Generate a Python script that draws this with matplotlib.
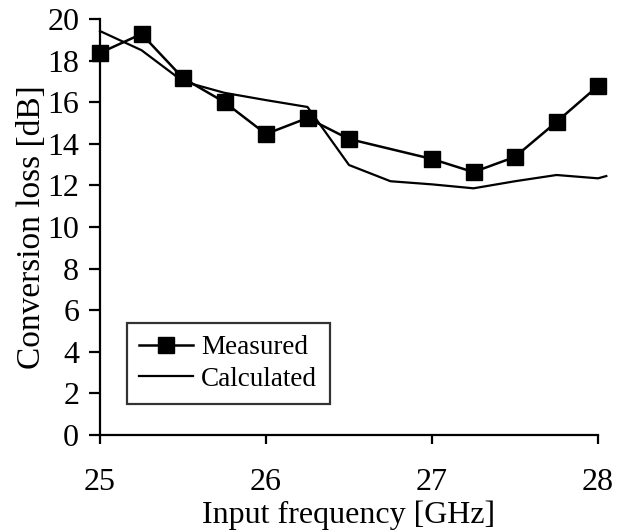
import matplotlib
matplotlib.use("Agg")
import matplotlib.pyplot as plt

plt.rcParams['font.family'] = ['Liberation Serif', 'DejaVu Serif']

meas_x = [25.0, 25.25, 25.5, 25.75, 26.0, 26.25, 26.5, 27.0, 27.25, 27.5, 27.75, 28.0]
meas_y = [18.37, 19.28, 17.16, 16.0, 14.47, 15.24, 14.23, 13.27, 12.64, 13.37, 15.05, 16.78]

calc_x = [25.0, 25.25, 25.5, 25.75, 26.0, 26.25, 26.5, 26.75, 27.0, 27.25, 27.5, 27.75, 28.0, 28.05]
calc_y = [19.42, 18.5, 17.0, 16.45, 16.1, 15.77, 12.98, 12.2, 12.05, 11.86, 12.2, 12.5, 12.34, 12.45]

x_ticks = [25, 26, 27, 28]
y_ticks = [0, 2, 4, 6, 8, 10, 12, 14, 16, 18, 20]

fig = plt.figure(figsize=(6.35, 5.32), dpi=100)
ax = fig.add_axes([100/635, 1-435/532, 498/635, 416/532])

ax.plot(meas_x, meas_y, color='black', lw=1.8, marker='s', markersize=12,
        label='Measured', clip_on=False, zorder=3)
ax.plot(calc_x, calc_y, color='black', lw=1.6, label='Calculated',
        clip_on=False, zorder=2)

ax.set_xlim(25, 28)
ax.set_ylim(0, 20)
ax.set_xticks(x_ticks)
ax.set_yticks(y_ticks)

for s in ['top', 'right']:
    ax.spines[s].set_visible(False)
for s in ['left', 'bottom']:
    ax.spines[s].set_linewidth(1.6)

ax.tick_params(axis='y', direction='out', length=8, width=1.6, pad=7, labelsize=23)
ax.tick_params(axis='x', direction='out', length=6.5, width=1.6, pad=17, labelsize=23)

ax.set_xlabel('Input frequency [GHz]', fontsize=23, labelpad=3)
ax.set_ylabel('Conversion loss [dB]', fontsize=24, labelpad=0)

leg = ax.legend(loc='lower left', bbox_to_anchor=(0.054, 0.0745), borderaxespad=0,
                fontsize=19.5, frameon=True, fancybox=False, edgecolor='black',
                handlelength=2.0, handletextpad=0.3, labelspacing=0.25,
                borderpad=0.45)
leg.get_frame().set_linewidth(1.6)

fig.savefig('out.png', dpi=100)
